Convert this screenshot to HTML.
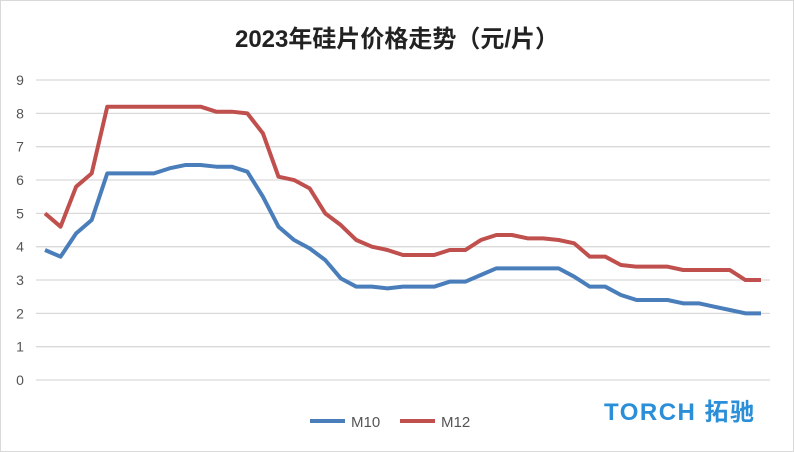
<!DOCTYPE html>
<html><head><meta charset="utf-8"><style>
body{margin:0;background:#fff;}
svg{display:block;font-family:"Liberation Sans","Noto Sans CJK SC",sans-serif;}
</style></head><body>
<svg width="794" height="452" viewBox="0 0 794 452">
<rect x="0.5" y="0.5" width="793" height="451" fill="#fff" stroke="#d9d9d9"/>
<text x="397" y="47" text-anchor="middle" font-size="24" font-weight="bold" fill="#222">2023年硅片价格走势（元/片）</text>
<g id="grid"></g>
<g id="yt"></g>
<g id="series"></g>
<g>
<line x1="310" y1="421" x2="345" y2="421" stroke="#4a7ebb" stroke-width="4"/>
<text x="351" y="427" font-size="15" fill="#555">M10</text>
<line x1="400" y1="421" x2="435" y2="421" stroke="#c0504d" stroke-width="4"/>
<text x="441" y="427" font-size="15" fill="#555">M12</text>
</g>
<text x="604" y="420" font-size="24" font-weight="bold" fill="#2a8fd8" letter-spacing="1.5">TORCH 拓驰</text>
</svg>
<script>
const m10=[3.9,3.7,4.4,4.8,6.2,6.2,6.2,6.2,6.35,6.45,6.45,6.4,6.4,6.25,5.5,4.6,4.2,3.95,3.6,3.05,2.8,2.8,2.75,2.8,2.8,2.8,2.95,2.95,3.15,3.35,3.35,3.35,3.35,3.35,3.1,2.8,2.8,2.55,2.4,2.4,2.4,2.3,2.3,2.2,2.1,2.0,2.0];
const m12=[5.0,4.6,5.8,6.2,8.2,8.2,8.2,8.2,8.2,8.2,8.2,8.05,8.05,8.0,7.4,6.1,6.0,5.75,5.0,4.65,4.2,4.0,3.9,3.75,3.75,3.75,3.9,3.9,4.2,4.35,4.35,4.25,4.25,4.2,4.1,3.7,3.7,3.45,3.4,3.4,3.4,3.3,3.3,3.3,3.3,3.0,3.0];
const yTicks=[0,1,2,3,4,5,6,7,8,9];
const NS="http://www.w3.org/2000/svg";
const y=v=>380-v*33.33;
const x=i=>45+i*(761-45)/(m10.length-1);
const grid=document.getElementById('grid'),yt=document.getElementById('yt'),ser=document.getElementById('series');
yTicks.forEach(t=>{
 const l=document.createElementNS(NS,'line');
 l.setAttribute('x1',36);l.setAttribute('x2',770);l.setAttribute('y1',y(t));l.setAttribute('y2',y(t));
 l.setAttribute('stroke','#d9d9d9');l.setAttribute('stroke-width','1.3');
 
 
 grid.appendChild(l);
 const tx=document.createElementNS(NS,'text');
 tx.setAttribute('x',20);tx.setAttribute('y',y(t)+5);tx.setAttribute('text-anchor','middle');
 tx.setAttribute('font-size','14');tx.setAttribute('fill','#555');tx.textContent=t;
 
 
 yt.appendChild(tx);
});
[[m10,'#4a7ebb','line-m10'],[m12,'#c0504d','line-m12']].forEach(([d,c,n])=>{
 const p=document.createElementNS(NS,'polyline');
 p.setAttribute('points',d.map((v,i)=>x(i)+','+y(v)).join(' '));
 p.setAttribute('fill','none');p.setAttribute('stroke',c);p.setAttribute('stroke-width','4');p.setAttribute('stroke-linejoin','round');
 
 
 ser.appendChild(p);
});
</script>
</body></html>
